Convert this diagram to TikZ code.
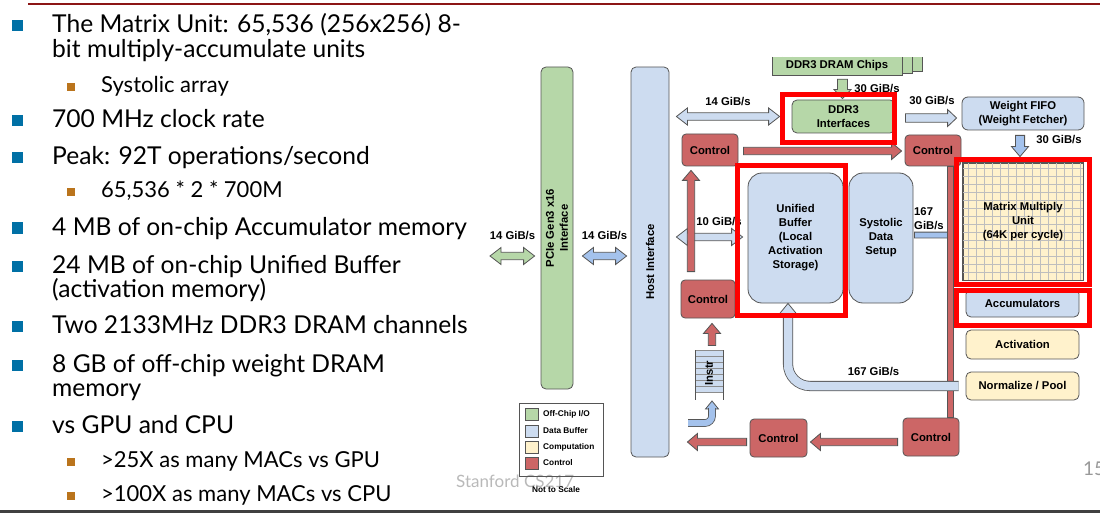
\documentclass[tikz,border=0pt]{standalone}
\usepackage{fontspec}
\setmainfont{Liberation Sans}
\newfontfamily\slidefont{Lato}
\usetikzlibrary{calc}

\definecolor{offgreen}{RGB}{182,215,168}
\definecolor{bufblue}{RGB}{205,220,240}
\definecolor{midblue}{RGB}{164,194,236}
\definecolor{compyel}{RGB}{255,242,204}
\definecolor{ctlred}{RGB}{204,102,102}
\definecolor{edgegray}{RGB}{85,85,85}
\definecolor{gridgray}{RGB}{190,190,190}
\definecolor{hlred}{RGB}{255,0,0}
\definecolor{bulblue}{RGB}{0,112,165}
\definecolor{bulbrown}{RGB}{186,116,28}
\definecolor{cardinal}{RGB}{140,21,21}
\definecolor{footgray}{RGB}{185,185,185}

\newcommand\labfont{\fontsize{11.3}{14}\selectfont\bfseries}
\newcommand\legfont{\fontsize{8.3}{10}\selectfont\bfseries}
\newcommand\bigtxt{\slidefont\fontsize{24.6}{30}\selectfont}
\newcommand\subtxt{\slidefont\fontsize{22}{25}\selectfont}

\begin{document}
\begin{tikzpicture}[x=1pt, y=-1pt,
  box/.style={draw=edgegray, line width=0.8pt, rounded corners=4pt, align=center, font=\labfont, inner sep=1pt},
  ctrl/.style={box, fill=ctlred, minimum width=56pt, minimum height=34pt},
  lbl/.style={font=\labfont, inner sep=0pt},
  frame/.style={draw=hlred, line width=5pt},
  blkarr/.style n args={3}{to path={let \p1=(\tikztostart), \p2=(\tikztotarget), \n1={atan2(\y2-\y1,\x2-\x1)} in
    ($(\p1)+(\n1+90:#1)$) -- ($(\p2)+(\n1+180:#3)+(\n1+90:#1)$) -- ($(\p2)+(\n1+180:#3)+(\n1+90:#2)$) -- (\p2)
    -- ($(\p2)+(\n1+180:#3)+(\n1-90:#2)$) -- ($(\p2)+(\n1+180:#3)+(\n1-90:#1)$) -- ($(\p1)+(\n1-90:#1)$) -- cycle}},
  dblkarr/.style n args={3}{to path={let \p1=(\tikztostart), \p2=(\tikztotarget), \n1={atan2(\y2-\y1,\x2-\x1)} in
    ($(\p1)+(\n1:#3)+(\n1+90:#1)$) -- ($(\p2)+(\n1+180:#3)+(\n1+90:#1)$) -- ($(\p2)+(\n1+180:#3)+(\n1+90:#2)$) -- (\p2)
    -- ($(\p2)+(\n1+180:#3)+(\n1-90:#2)$) -- ($(\p2)+(\n1+180:#3)+(\n1-90:#1)$) -- ($(\p1)+(\n1:#3)+(\n1-90:#1)$)
    -- ($(\p1)+(\n1:#3)+(\n1-90:#2)$) -- (\p1) -- ($(\p1)+(\n1:#3)+(\n1+90:#2)$) -- cycle}},
  blk/.style={blkarr={3.7pt}{8.5pt}{10pt}},
  dblk/.style={dblkarr={3.7pt}{8.5pt}{11pt}},
  arrlb/.style={fill=bufblue, draw=edgegray, line width=0.8pt},
  arrmb/.style={fill=midblue, draw=edgegray, line width=0.8pt},
  arrg/.style={fill=offgreen, draw=edgegray, line width=0.8pt},
  arrr/.style={fill=ctlred, draw=edgegray, line width=0.8pt},
  tube/.style={draw=edgegray, line width=0.8pt, double=#1, double distance=6pt}]
  \useasboundingbox (0,0) rectangle (1100,513);

  % Slide rules
  \draw[cardinal, line width=2pt] (28,4) -- (1100,4);
  \draw[black!75, line width=3pt] (0,511) -- (1100,511);

  % Bullets
  \foreach \y in {26,121,158,228,266,326,365,426}
    \fill[bulblue] (12,\y-5.5) rectangle (23,\y+5.5);
  \foreach \y in {87,192.5,461.5,496}
    \fill[bulbrown] (67,\y-4) rectangle (75,\y+4);

  % Bullet text
  \node[font=\bigtxt, anchor=base west, inner sep=0pt] (b1) at (52,33) {The Matrix Unit: 65,536 (256x256) 8-};
  \node[font=\bigtxt, anchor=base west, inner sep=0pt] (b2) at (52,58) {bit multiply-accumulate units};
  \node[font=\subtxt, anchor=base west, inner sep=0pt] (s1) at (101,93) {Systolic array};
  \node[font=\bigtxt, anchor=base west, inner sep=0pt] (b3) at (52,128) {700 MHz clock rate};
  \node[font=\bigtxt, anchor=base west, inner sep=0pt] (b4) at (52,165) {Peak: 92T operations/second};
  \node[font=\subtxt, anchor=base west, inner sep=0pt] (s2) at (101,198) {65,536 * 2 * 700M};
  \node[font=\bigtxt, anchor=base west, inner sep=0pt] (b5) at (52,235) {4 MB of on-chip Accumulator memory};
  \node[font=\bigtxt, anchor=base west, inner sep=0pt] (b6) at (52,273) {24 MB of on-chip Unified Buffer};
  \node[font=\bigtxt, anchor=base west, inner sep=0pt] (b7) at (52,297) {(activation memory)};
  \node[font=\bigtxt, anchor=base west, inner sep=0pt] (b8) at (52,333) {Two 2133MHz DDR3 DRAM channels};
  \node[font=\bigtxt, anchor=base west, inner sep=0pt] (b9) at (52,372) {8 GB of off-chip weight DRAM};
  \node[font=\bigtxt, anchor=base west, inner sep=0pt] (b10) at (52,396) {memory};
  \node[font=\bigtxt, anchor=base west, inner sep=0pt] (b11) at (52,433) {vs GPU and CPU};
  \node[font=\subtxt, anchor=base west, inner sep=0pt] (s3) at (101,467) {>25X as many MACs vs GPU};
  \node[font=\subtxt, anchor=base west, inner sep=0pt] (s4) at (101,501) {>100X as many MACs vs CPU};

  % Footer
  \node[font=\slidefont\fontsize{17}{20}\selectfont, text=footgray, anchor=base west, inner sep=0pt] (footer) at (456,487) {Stanford CS217};
  \node[font=\slidefont\fontsize{19}{22}\selectfont, text=black!40, anchor=base west, inner sep=0pt] (pagenum) at (1083,475) {15};

  % DRAM chips stack
  \fill[offgreen] (792,57) rectangle (922,71);
  \draw[edgegray, line width=0.6pt] (792,57) |- (922,71) -- (922,57);
  \fill[offgreen] (782,57) rectangle (912,73);
  \draw[edgegray, line width=0.6pt] (782,57) |- (912,73) -- (912,57);
  \node[fill=offgreen, minimum width=130pt, minimum height=18pt, font=\labfont, inner sep=0pt] (chips) at (837,66) {DDR3 DRAM Chips};
  \draw[edgegray, line width=0.6pt] (chips.north west) |- (chips.south east) -- (chips.north east);

  % Interfaces
  \node[box, fill=offgreen, minimum width=32pt, minimum height=322pt, rounded corners=5pt] (pcie) at (557,228) {};
  \node[rotate=90, align=center, font=\labfont] (pcietxt) at (pcie) {PCIe Gen3 x16\\Interface};
  \node[box, fill=bufblue, minimum width=38pt, minimum height=390pt, rounded corners=5pt] (host) at (650,262) {};
  \node[rotate=90, font=\labfont] (hosttxt) at (host) {Host Interface};

  % Control units
  \node[ctrl, minimum height=32pt] (ctlTL) at (710,150) {Control};
  \node[ctrl, minimum width=54pt, minimum height=38pt] (ctlML) at (708,299) {Control};
  \node[ctrl, minimum width=57pt, minimum height=38pt] (ctlBM) at (778.5,438) {Control};
  \node[ctrl, minimum height=38pt] (ctlBR) at (931,437) {Control};
  \node[ctrl, minimum height=31pt] (ctlTR) at (933,150.5) {Control};

  % Buffers and compute
  \node[box, fill=offgreen, minimum width=103pt, minimum height=33pt, rounded corners=5pt] (ddr) at (843.5,116.5) {DDR3\\Interfaces};
  \node[box, fill=bufblue, minimum width=122pt, minimum height=33pt, rounded corners=6pt] (fifo) at (1023,113.5) {Weight FIFO\\(Weight Fetcher)};
  \node[box, fill=bufblue, minimum width=95pt, minimum height=130pt, rounded corners=14pt] (ub) at (795.5,238) {Unified\\Buffer\\(Local\\Activation\\Storage)};
  \node[box, fill=bufblue, minimum width=64pt, minimum height=130pt, rounded corners=14pt] (sys) at (881,238) {Systolic\\Data\\Setup};
  \node[box, fill=compyel, rounded corners=0pt, minimum width=120pt, minimum height=117pt] (mmu) at (1023,221.5) {};
  \draw[gridgray, line width=0.5pt, step=8pt] (mmu.north west) grid (mmu.south east);
  \draw[edgegray, line width=0.8pt] (mmu.north west) rectangle (mmu.south east);
  \node[font=\labfont, align=center] (mmutxt) at (mmu) {Matrix Multiply\\Unit\\(64K per cycle)};
  \node[box, fill=bufblue, minimum width=113pt, minimum height=28pt, rounded corners=5pt] (acc) at (1022.5,303) {Accumulators};
  \node[box, fill=compyel, minimum width=113pt, minimum height=29pt, rounded corners=5pt] (act) at (1022.5,344.5) {Activation};
  \node[box, fill=compyel, minimum width=113pt, minimum height=28pt, rounded corners=5pt] (norm) at (1022.5,386) {Normalize / Pool};

  % Instruction queue
  \fill[bufblue] (695,350) rectangle (723,393);
  \foreach \y in {350,356,...,392}
    \draw[black!45, line width=0.5pt] (695,\y) -- (723,\y);
  \draw[edgegray, line width=0.8pt] (695,350) -- (695,400) (723,350) -- (723,400);
  \node[rotate=90, font=\labfont] (instr) at (709,373) {Instr};

  % Data arrows
  \coordinate (pcieL) at (490,256);
  \draw[arrg] (pcieL) to[dblk] ($(pcie.west |- pcieL)+(-6,0)$);
  \draw[arrmb] ($(pcie.east |- pcieL)+(9,0)$) to[dblk] ($(host.west |- pcieL)+(-4,0)$);
  \draw[arrlb] ($(host.east |- ddr.west)+(7,0)$) to[dblk] ($(ddr.west)+(-12,0)$);
  \draw[arrlb] ($(host.east |- ub.west)+(7,-1)$) to[dblk] ($(ub.west)+(-5,-1)$);
  \draw[arrg] ($(ddr.north |- chips.south)+(-1,4)$) to[blkarr={5pt}{8.5pt}{9pt}] ($(ddr.north)+(-1,-1)$);
  \draw[arrlb] ($(ddr.east)+(10,1.5)$) to[blkarr={4.2pt}{8.5pt}{9pt}] ($(fifo.west |- ddr.east)+(-5,1.5)$);
  \draw[arrmb] ($(fifo.south)+(-3,5)$) to[blkarr={4.6pt}{8.5pt}{10pt}] ($(fifo.south |- mmu.north)+(-3,-6)$);
  \draw[arrmb] ($(sys.east)+(1,-3)$) to[blkarr={2.9pt}{6.5pt}{7pt}] ($(mmu.west |- sys.east)+(-8,-3)$);

  % Control arrows
  \draw[arrr] ($(ctlTL.east)+(5,1)$) to[blk] ($(ctlTR.west |- ctlTL.east)+(-3,1)$);
  \draw[arrr] ($(ctlTL.south |- ctlML.north)+(-19,-8)$) to[blk] ($(ctlTL.south)+(-19,4)$);
  \draw[arrr] ($(ctlML.south)+(4,27)$) to[blk] ($(ctlML.south)+(4,5)$);
  \draw[arrr] ($(ctlBM.west)+(-3,4)$) to[blk] ($(host.east |- ctlBM.west)+(18,4)$);
  \draw[arrr] ($(ctlBR.west)+(-5,5)$) to[blk] ($(ctlBM.east |- ctlBR.west)+(3,5)$);
  \draw[arrr] ($(ctlTR.south east)+(-14,0)$) rectangle ($(ctlBR.north east)+(-6,0)$);

  % Curved arrows
  \coordinate (rtip) at ($(ub.south)+(-7.5,0)$);
  \draw[arrlb] (rtip) -- ++(-9,11) -- ++(18,0) -- cycle;
  \draw[tube=bufblue, double distance=8.5pt, rounded corners=22pt] ($(norm.west)+(-7,0)$) -| ($(rtip)+(0,10)$);
  \coordinate (qin) at (688,423);
  \coordinate (qtip) at (712,401);
  \draw[arrmb] (qtip) -- ++(-6.5,8) -- ++(13,0) -- cycle;
  \draw[tube=midblue, rounded corners=7pt] (qin) -| ($(qtip)+(0,7)$);

  % Bandwidth labels
  \node[lbl] (l14a) at (512.5,236) {14 GiB/s};
  \node[lbl] (l14b) at (604.5,236) {14 GiB/s};
  \node[lbl] (l14c) at (728,102) {14 GiB/s};
  \node[lbl] (l10) at (719,222) {10 GiB/s};
  \node[lbl] (l30a) at (877,89) {30 GiB/s};
  \node[lbl] (l30b) at (932,101) {30 GiB/s};
  \node[lbl] (l30c) at (1059,140) {30 GiB/s};
  \node[lbl, align=left, anchor=west] (l167a) at (914,219) {167\\GiB/s};
  \node[lbl] (l167b) at (873.5,371.5) {167 GiB/s};

  % Highlight frames
  \draw[frame] (782.5,94.5) rectangle (894.5,142.5);
  \draw[frame] (737.5,165.5) rectangle (845.5,315.5);
  \draw[frame] (956.5,160) rectangle (1089.5,284);
  \draw[frame] (956.5,290.5) rectangle (1089.5,325.5);

  % Legend
  \node[draw=edgegray, line width=0.8pt, minimum width=84pt, minimum height=73pt] (legend) at (561,439.5) {};
  \node[draw=edgegray, fill=offgreen, minimum width=13pt, minimum height=12pt, inner sep=0pt] (sw1) at (531.5,414) {};
  \node[draw=edgegray, fill=bufblue, minimum width=13pt, minimum height=12pt, inner sep=0pt] (sw2) at (531.5,431) {};
  \node[draw=edgegray, fill=compyel, minimum width=13pt, minimum height=12pt, inner sep=0pt] (sw3) at (531.5,447) {};
  \node[draw=edgegray, fill=ctlred, minimum width=13pt, minimum height=12pt, inner sep=0pt] (sw4) at (531.5,463) {};
  \node[font=\legfont, anchor=west, inner sep=0pt] (lg1) at (543,414) {Off-Chip I/O};
  \node[font=\legfont, anchor=west, inner sep=0pt] (lg2) at (543,431) {Data Buffer};
  \node[font=\legfont, anchor=west, inner sep=0pt] (lg3) at (543,447) {Computation};
  \node[font=\legfont, anchor=west, inner sep=0pt] (lg4) at (543,463) {Control};
  \node[font=\legfont] (nts) at (556,490) {Not to Scale};
\end{tikzpicture}
\end{document}
